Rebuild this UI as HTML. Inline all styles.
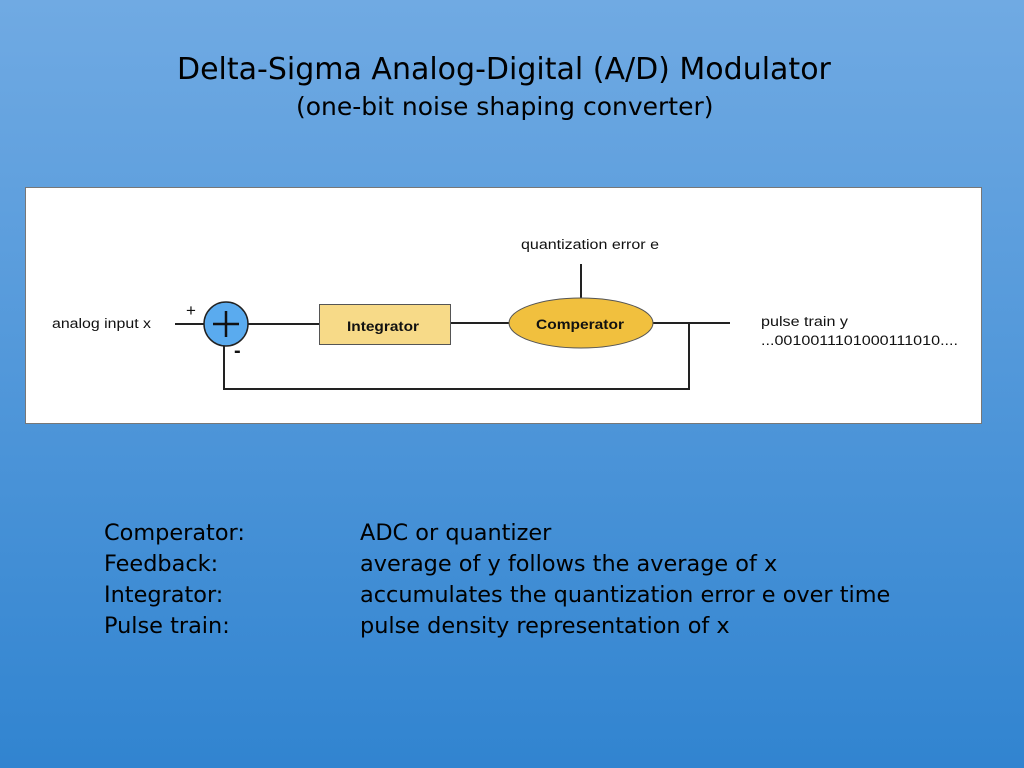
<!DOCTYPE html>
<html><head><style>
body{margin:0;width:1024px;height:768px;overflow:hidden;background:linear-gradient(#70aae3,#3184d0);font-family:"DejaVu Sans",sans-serif;position:relative}
.t{position:absolute;white-space:nowrap;color:#000;transform-origin:0 0}
.r{position:absolute;font-size:22.4px;color:#000;white-space:nowrap;transform-origin:0 0}
</style></head><body>
<div class="t" style="left:177px;top:52px;font-size:30px">Delta-Sigma Analog-Digital (A/D) Modulator</div>
<div class="t" style="left:296px;top:92px;font-size:25px">(one-bit noise shaping converter)</div>
<svg style="position:absolute;left:0;top:0" width="1024" height="768">
<rect x="25.5" y="187.5" width="956" height="236" fill="#fff" stroke="#777"/>
<g stroke="#222" stroke-width="2" fill="none">
<line x1="175" y1="324" x2="204" y2="324"/>
<line x1="248" y1="324" x2="319" y2="324"/>
<line x1="451" y1="323" x2="509" y2="323"/>
<line x1="653" y1="323" x2="730" y2="323"/>
<line x1="581" y1="264" x2="581" y2="298"/>
<polyline points="689,323 689,389 224,389 224,346"/>
</g>
<circle cx="226" cy="324" r="22" fill="#5aabef" stroke="#222" stroke-width="1.5"/>
<line x1="213" y1="324" x2="239" y2="324" stroke="#111" stroke-width="2.5"/>
<line x1="226" y1="311" x2="226" y2="337" stroke="#111" stroke-width="2.5"/>
<rect x="319.5" y="304.5" width="131" height="40" fill="#f7da88" stroke="#555"/>
<ellipse cx="581" cy="323" rx="72" ry="25" fill="#f1c03e" stroke="#555"/>
<g font-family="Liberation Sans,sans-serif" fill="#111">
<text x="347" y="331" font-size="14" font-weight="bold" textLength="72" lengthAdjust="spacingAndGlyphs">Integrator</text>
<text x="536" y="329" font-size="14" font-weight="bold" textLength="88" lengthAdjust="spacingAndGlyphs">Comperator</text>
<text x="521" y="249" font-size="13.5" textLength="138" lengthAdjust="spacingAndGlyphs">quantization error e</text>
<text x="52" y="328" font-size="13.5" textLength="99" lengthAdjust="spacingAndGlyphs">analog input x</text>
<text x="761" y="326" font-size="13.5" textLength="87" lengthAdjust="spacingAndGlyphs">pulse train y</text>
<text x="761" y="345" font-size="13.5" textLength="197" lengthAdjust="spacingAndGlyphs">...0010011101000111010....</text>
<text x="186" y="316" font-size="17">+</text>
<text x="234" y="357" font-size="20" font-weight="bold">-</text>
</g>
</svg>
<div class="r" style="left:104px;top:518px;line-height:31px">Comperator:<br>Feedback:<br>Integrator:<br>Pulse train:</div>
<div class="r" style="left:360px;top:518px;line-height:31px">ADC or quantizer<br>average of y follows the average of x<br>accumulates the quantization error e over time<br>pulse density representation of x</div>
</body></html>
